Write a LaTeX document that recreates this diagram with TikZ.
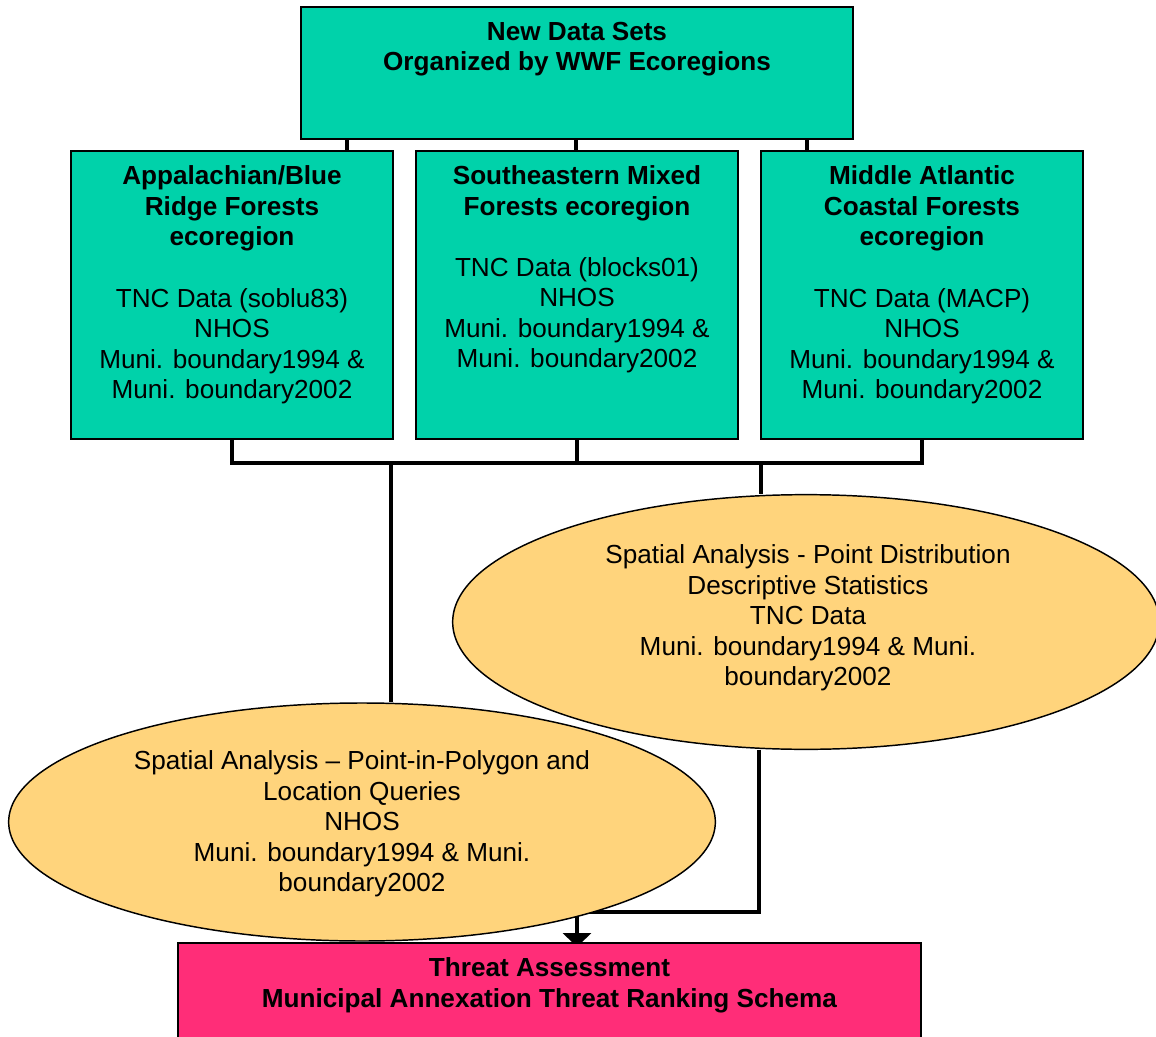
\documentclass[tikz,border=0pt]{standalone}
\usepackage{fontspec}
\setmainfont{Liberation Sans}
\usetikzlibrary{shapes.geometric,arrows.meta,backgrounds}
\definecolor{cgreen}{RGB}{0,210,170}
\definecolor{cyellow}{RGB}{255,212,124}
\definecolor{cpink}{RGB}{255,45,120}
\begin{document}
\begin{tikzpicture}[x=0.75pt,y=-0.75pt,
  box/.style={draw=black, line width=1.1pt, fill=cgreen, inner sep=0pt},
  pinkbox/.style={draw=black, line width=1.1pt, fill=cpink, inner sep=0pt},
  ell/.style={ellipse, draw=black, line width=1.1pt, fill=cyellow, inner sep=0pt},
  txt/.style={align=center, font=\fontsize{19.6}{22.9}\selectfont, inner sep=0pt},
  conn/.style={line width=3pt}]
\clip (0,0) rectangle (1156,1037);
% boxes
\node[box, minimum width=414pt, minimum height=99pt] (top) at (577,73) {};
\node[box, minimum width=241.5pt, minimum height=216pt] (b1) at (232,295) {};
\node[box, minimum width=241.5pt, minimum height=216pt] (b2) at (577,295) {};
\node[box, minimum width=241.5pt, minimum height=216pt] (b3) at (922,295) {};
\node[pinkbox, minimum width=557.25pt, minimum height=76.5pt] (bot) at (549.5,994) {};
% ellipses
\node[ell, minimum width=530pt, minimum height=191pt] (e2) at (806,622) {};
\node[ell, minimum width=530pt, minimum height=178.5pt] (e1) at (362,822) {};
% texts
\node[txt] (t0) at (577,49) {\textbf{New Data Sets}\\\textbf{Organized by WWF Ecoregions}};
\node[txt] (t1) at (232,285) {\textbf{Appalachian/Blue}\\\textbf{Ridge Forests}\\\textbf{ecoregion}\\[22.9pt]TNC Data (soblu83)\\NHOS\\Muni. boundary1994 \&\\Muni. boundary2002};
\node[txt] (t2) at (577,269.5) {\textbf{Southeastern Mixed}\\\textbf{Forests ecoregion}\\[22.9pt]TNC Data (blocks01)\\NHOS\\Muni. boundary1994 \&\\Muni. boundary2002};
\node[txt] (t3) at (922,285) {\textbf{Middle Atlantic}\\\textbf{Coastal Forests}\\\textbf{ecoregion}\\[22.9pt]TNC Data (MACP)\\NHOS\\Muni. boundary1994 \&\\Muni. boundary2002};
\node[txt] (t4) at (808,618) {Spatial Analysis - Point Distribution\\Descriptive Statistics\\TNC Data\\Muni. boundary1994 \& Muni.\\boundary2002};
\node[txt] (t5) at (362,824) {Spatial Analysis \textendash{} Point-in-Polygon and\\Location Queries\\NHOS\\Muni. boundary1994 \& Muni.\\boundary2002};
\node[txt] (t6) at (549.5,985.5) {\textbf{Threat Assessment}\\\textbf{Municipal Annexation Threat Ranking Schema}};
% connectors
\coordinate (x1) at (347,0);
\coordinate (x2) at (576,0);
\coordinate (x3) at (807,0);
\coordinate (bus) at (0,463);
\coordinate (xl) at (391,0);
\coordinate (xr) at (761,0);
\coordinate (xj) at (759,0);
\coordinate (jy) at (0,912);
\coordinate (xa) at (577,0);
\coordinate (ya) at (0,947);
\begin{scope}[on background layer]
\draw[conn] (top.south -| x1) -- (b1.north -| x1);
\draw[conn] (top.south -| x2) -- (b2.north -| x2);
\draw[conn] (top.south -| x3) -- (b3.north -| x3);
\draw[conn] (b1.south) -- (b1.south |- bus) -- (b3.south |- bus) -- (b3.south);
\draw[conn] (b2.south) -- (b2.south |- bus);
\draw[conn] (xl |- bus) -- (xl |- e1.north);
\draw[conn] (xr |- bus) -- (xr |- e2.north);
\draw[conn, -{Triangle[width=21pt,length=10.5pt]}] (xj |- e2.south) -- (xj |- jy) -- (xa |- jy) -- (xa |- ya);
\end{scope}
\end{tikzpicture}
\end{document}
